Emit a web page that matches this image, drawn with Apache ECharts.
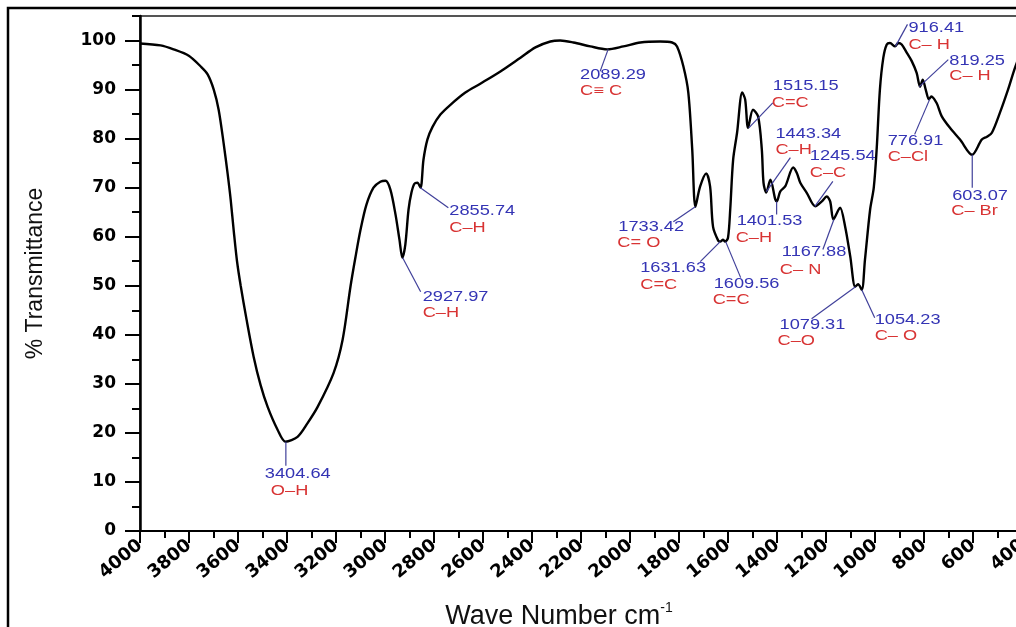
<!DOCTYPE html>
<html><head><meta charset="utf-8">
<script src="https://cdn.jsdelivr.net/npm/echarts@6/dist/echarts.min.js"></script>
<style>html,body{margin:0;padding:0;background:#fff;overflow:hidden}#c{width:1016px;height:627px}</style>
</head><body><div id="c"></div>
<script>
// ---- data ----
const waveNumbers = [4000,3916,3863,3801,3752,3724,3699,3679,3659,3642,3630,3617,3604,3589,3565,3536,3508,3479,3438,3406,3357,3316,3275,3210,3173,3141,3121,3100,3076,3047,3019,2998,2978,2957,2941,2929,2917,2904,2892,2880,2868,2855,2843,2827,2806,2774,2733,2672,2611,2529,2447,2386,2325,2285,2231,2162,2093,2027,1958,1877,1828,1808,1782,1762,1746,1733,1714,1689,1673,1661,1640,1632,1620,1612,1600,1591,1579,1563,1542,1530,1518,1498,1477,1462,1455,1444,1427,1407,1401,1387,1366,1334,1319,1305,1278,1244,1217,1197,1183,1170,1149,1142,1122,1101,1081,1069,1054,1041,1020,1005,993,980,966,952,939,918,905,891,870,850,830,816,805,793,780,770,748,728,694,653,604,564,543,523,490,457,421,400];
const transmittance = [99.4,99.0,98.2,96.9,94.7,93.1,90.0,85.9,79.2,72.7,67.6,61.0,55.0,50.0,43.1,35.5,29.8,25.3,20.6,18.2,19.2,22.0,25.3,32.2,39.0,49.8,55.7,61.4,66.5,70.0,71.2,71.4,69.6,64.5,59.4,55.7,58.4,65.5,69.0,70.8,71.0,70.0,75.7,79.8,82.4,84.9,86.9,89.4,91.2,93.7,96.5,98.6,99.8,100.0,99.6,98.8,98.2,98.8,99.6,99.8,99.6,98.8,94.7,89.4,77.8,66.1,70.2,72.9,70.2,62.0,59.2,59.0,59.4,59.0,59.8,65.5,75.7,81.2,89.4,88.0,82.2,85.9,84.5,77.8,71.0,69.0,71.6,67.6,67.2,69.2,70.3,74.1,73.0,71.0,68.9,66.2,67.2,68.2,67.2,63.5,65.5,65.9,62.1,56.0,49.8,50.3,49.2,55.3,65.5,70.0,78.0,90.0,96.5,99.2,99.5,98.8,99.5,99.2,97.5,95.8,93.4,90.6,92.0,90.0,88.0,88.6,87.2,84.6,82.2,79.8,76.7,79.8,80.4,81.2,85.3,90.0,95.5,97.0];

// annotated peaks
const peakWave = [3404.64,2927.97,2855.74,2089.29,1733.42,1631.63,1609.56,1515.15,1443.34,1401.53,1245.54,1167.88,1079.31,1054.23,916.41,819.25,776.91,603.07];
const peakT    = [18.2,55.7,70.0,98.2,66.1,59.0,59.0,82.2,69.2,67.2,66.2,63.5,49.8,49.2,98.8,90.6,88.0,76.7];
const peakText = ['3404.64','2927.97','2855.74','2089.29','1733.42','1631.63','1609.56','1515.15','1443.34','1401.53','1245.54','1167.88','1079.31','1054.23','916.41','819.25','776.91','603.07'];
const bondText = ['O\u2013H','C\u2013H','C\u2013H','C\u2261 C','C= O','C=C','C=C','C=C','C\u2013H','C\u2013H','C\u2013C','C\u2013 N','C\u2013O','C\u2013 O','C\u2013 H','C\u2013 H','C\u2013Cl','C\u2013 Br'];

// axis ticks
const yTickValues = [0,10,20,30,40,50,60,70,80,90,100];
const yMinorValues = [5,15,25,35,45,55,65,75,85,95,105];
const xMin = 400, xMax = 4000, xStep = 200;

// ---- layout (pixel offsets of leader end, number label, bond label from the peak) ----
const labelLayout = [
  [0,24,-21,32,-15,49],
  [18,34,20,39,20,55],
  [28,20,29,23,29,40],
  [-8,22,-28,26,-28,42],
  [-22,15,-77,20,-78,36],
  [-20,20,-80,27,-80,44],
  [15,36,-12,43,-13,59],
  [24,-25,24,-42,23,-25],
  [24,-34,9,-57,9,-41],
  [0,13,-40,20,-41,37],
  [18,-25,-5,-50,-5,-33],
  [-11,30,-52,33,-54,51],
  [-44,32,-76,38,-78,54],
  [13,28,13,30,13,46],
  [12,-22,13,-18,13,-1],
  [29,-27,30,-25,30,-10],
  [-15,35,-42,42,-42,58],
  [0,33,-20,41,-21,56]
];

const chart = echarts.init(document.getElementById('c'));
const series = waveNumbers.map((w,i)=>[w, transmittance[i]]);

chart.setOption({
  animation: false,
  backgroundColor: '#fff',
  grid: {left: 140, top: 16, right: -6, bottom: 96, outerBoundsMode: 'none', containLabel: false,
         show: true, borderColor: '#555', borderWidth: 2},
  xAxis: {
    type: 'value', inverse: true, min: xMin, max: xMax, interval: xStep,
    name: '{a|Wave Number cm}{b|-1}', nameLocation: 'middle', nameGap: 70,
    nameTextStyle: {padding: [0, 44, 0, 0], rich: {
      a: {fontFamily: 'Liberation Sans', fontSize: 27, color: '#111'},
      b: {fontFamily: 'Liberation Sans', fontSize: 14, color: '#111', padding: [0, 0, 18, 0]}
    }},
    axisLine: {show: true, onZero: false, lineStyle: {color: '#000', width: 2}},
    axisTick: {show: true, length: 12, lineStyle: {color: '#000', width: 2}},
    minorTick: {show: true, splitNumber: 2, length: 7, lineStyle: {color: '#000', width: 2}},
    axisLabel: {rotate: 40, margin: 12, fontFamily: 'DejaVu Sans', fontWeight: 'bold', fontSize: 18, color: '#000',
                formatter: v => String(v)},
    splitLine: {show: false}
  },
  yAxis: [{
    type: 'value', min: 0, max: 105,
    name: '% Transmittance', nameLocation: 'middle', nameGap: 93,
    nameTextStyle: {fontFamily: 'Liberation Sans', fontSize: 23, color: '#111'},
    axisLine: {show: true, onZero: false, lineStyle: {color: '#000', width: 2.5}},
    axisTick: {show: true, length: 15, customValues: yTickValues, lineStyle: {color: '#000', width: 2}},
    axisLabel: {customValues: yTickValues, margin: 24, fontFamily: 'DejaVu Sans', fontWeight: 'bold', fontSize: 17, color: '#000',
                formatter: v => String(v)},
    splitLine: {show: false}
  }, {
    type: 'value', min: 0, max: 105, position: 'left',
    axisLine: {show: false},
    axisTick: {show: true, length: 8, customValues: yMinorValues, lineStyle: {color: '#000', width: 2}},
    axisLabel: {show: false},
    splitLine: {show: false}
  }],
  series: [{
    type: 'line', data: series, showSymbol: false, smooth: 0.3,
    lineStyle: {color: '#000', width: 2.4}, clip: true
  }]
});

const g = [{
  type: 'rect', silent: true, z: 100,
  shape: {x: 8, y: 8, width: 1100, height: 700},
  style: {fill: 'none', stroke: '#000', lineWidth: 2.5}
}];
peakWave.forEach((w, i) => {
  const p = chart.convertToPixel({gridIndex: 0}, [w, peakT[i]]);
  const L = labelLayout[i];
  g.push({type: 'line', silent: true, z: 50,
    shape: {x1: p[0], y1: p[1], x2: p[0] + L[0], y2: p[1] + L[1]},
    style: {stroke: '#40409a', lineWidth: 1.2}});
  g.push({type: 'text', silent: true, z: 50, x: p[0] + L[2], y: p[1] + L[3], scaleX: 1.3,
    style: {text: peakText[i], fill: '#3434b4', font: '14px "Liberation Sans"', align: 'left', verticalAlign: 'middle'}});
  g.push({type: 'text', silent: true, z: 50, x: p[0] + L[4], y: p[1] + L[5], scaleX: 1.3,
    style: {text: bondText[i], fill: '#d83434', font: '14px "Liberation Sans"', align: 'left', verticalAlign: 'middle'}});
});
chart.setOption({graphic: g});
</script>
</body></html>
